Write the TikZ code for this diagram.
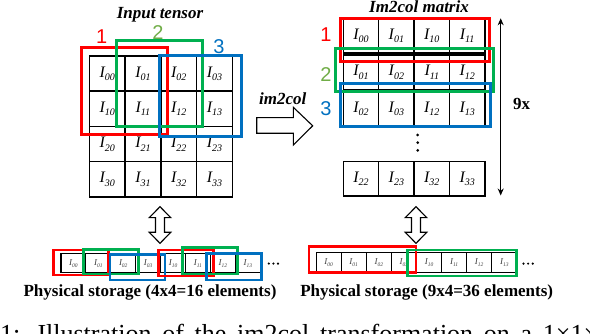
\documentclass[tikz,border=0pt]{standalone}
\usepackage{fontspec}
\setmainfont{Liberation Serif}
\newfontfamily\tagfont{Liberation Sans}
\usetikzlibrary{arrows.meta}

\definecolor{winred}{RGB}{255,0,0}
\definecolor{wingreen}{RGB}{0,176,80}
\definecolor{winblue}{RGB}{0,112,192}
\definecolor{taggreen}{RGB}{112,173,71}

\newcommand{\Icell}[1]{{\fontsize{16}{16}\selectfont\itshape I}\raisebox{-3.5pt}{\fontsize{10}{10}\selectfont\itshape #1}}
\newcommand{\Islot}[1]{{\fontsize{9}{9}\selectfont\itshape I}\raisebox{-1.8pt}{\fontsize{5.5}{5.5}\selectfont\itshape #1}}

\begin{document}
\begin{tikzpicture}[
    x=1pt, y=-1pt,
    cell/.style={draw, line width=1.5pt, minimum width=35.75pt, minimum height=35.25pt, inner sep=0pt},
    mcell/.style={cell, minimum width=35.4pt, minimum height=34.5pt},
    slot/.style={draw, line width=1.1pt, minimum width=24.9pt, minimum height=19.5pt, inner sep=0pt, text=black!75},
    win/.style={draw=#1, line width=3pt},
    swin/.style={draw=#1, line width=2.5pt},
    tag/.style={anchor=base, inner sep=0pt, font=\tagfont\fontsize{20}{20}\selectfont},
    title/.style={anchor=base, inner sep=0pt, font=\bfseries\itshape\fontsize{17}{17}\selectfont},
    label/.style={anchor=base, inner sep=0pt, font=\bfseries\fontsize{17}{17}\selectfont},
    hollow/.style={draw, line width=1.1pt, fill=white, line join=miter}
]
\useasboundingbox (0,0) rectangle (590,334);

% input tensor
\foreach \r in {0,...,3} {
  \foreach \c in {0,...,3} {
    \node[cell] (in\r\c) at ({107.2+35.75*\c},{73.6+35.25*\r}) {\Icell{\r\c}};
  }
}
\node[title] (intitle) at (160,18.3) {Input tensor};
\draw[win=winred] (81,47.7) rectangle (167.3,134.3);
\draw[win=wingreen] (116,41) rectangle (202.3,126.7);
\draw[win=winblue] (159,55.3) rectangle (241.7,136.7);
\node[tag, text=winred] (tag1) at (101.7,43.3) {1};
\node[tag, text=taggreen] (tag2) at (158,39.3) {2};
\node[tag, text=winblue] (tag3) at (219,53.3) {3};

% im2col arrow
\draw[hollow] (256.7,117.7) -- (293.3,117.7) -- (293.3,107.3) -- (312.7,125.8)
  -- (293.3,145) -- (293.3,133.3) -- (256.7,133.3) -- cycle;
\node[title] (convlabel) at (282.7,104.3) {im2col};

% im2col matrix
\foreach \r/\yc/\ids in {1/36/{00,01,10,11}, 2/72.3/{01,02,11,12}, 3/109/{02,03,12,13}, 4/179/{22,23,32,33}} {
  \foreach \id [count=\c from 0] in \ids {
    \node[mcell] (mat\r\c) at ({361+35.4*\c},\yc) {\Icell{\id}};
  }
}
\foreach \dy in {135,142.7,150.4} \fill (417.7,\dy) circle (1.5pt);
\node[title] (mattitle) at (419,12.7) {Im2col matrix};
\draw[win=winred] (340.7,18.3) rectangle (489.3,61.7);
\draw[win=wingreen] (335.7,48.3) rectangle (493.3,91.7);
\draw[win=winblue] (340,83.3) rectangle (490,126.7);
\node[tag, text=winred] (mtag1) at (326,41.7) {1};
\node[tag, text=taggreen] (mtag2) at (326,81.7) {2};
\node[tag, text=winblue] (mtag3) at (326,116) {3};

% 9x span
\coordinate (top9) at (500.7,18.3);
\coordinate (bot9) at (500.7,195.5);
\draw[{Stealth[length=7pt,width=6pt]}-{Stealth[length=7pt,width=6pt]}, line width=1.2pt] (top9) -- (bot9);
\node[label] (nine) at (521.7,110) {9x};

% links to storage
\foreach \ax in {160,416} {
  \draw[hollow] (\ax,206.7) -- ({\ax+10.8},217.7) -- ({\ax+4.5},217.7) -- ({\ax+4.5},232.3)
    -- ({\ax+10.8},232.3) -- (\ax,243.3) -- ({\ax-10.8},232.3) -- ({\ax-4.5},232.3)
    -- ({\ax-4.5},217.7) -- ({\ax-10.8},217.7) -- cycle;
}

% physical storage
\foreach \id [count=\k from 0] in {00,01,02,03,10,11,12,13} {
  \node[slot] (ls\k) at ({73.45+24.9*\k},263.2) {\Islot{\id}};
  \node[slot] (rs\k) at ({328.6+25.1*\k},262.6) {\Islot{\id}};
}
\foreach \dx in {0,4.6,9.2} {
  \fill (268.8+\dx,263.6) circle (1.2pt);
  \fill (523.5+\dx,263.6) circle (1.2pt);
}
\draw[swin=winred] (53.3,250) rectangle (108.3,275);
\draw[swin=wingreen] (83.3,249.3) rectangle (138.3,274);
\draw[swin=winblue] (110,254.3) rectangle (165,280);
\draw[swin=winred] (158.3,250) rectangle (213.3,276);
\draw[swin=wingreen] (182.7,247.7) rectangle (237.3,274);
\draw[swin=winblue] (206.7,253.3) rectangle (261.7,280);
\draw[swin=winred] (309,246.7) rectangle (416,272.7);
\draw[swin=wingreen] (407.7,250) rectangle (516.7,276);
\node[label] (lstore) at (150,296.5) {Physical storage (4x4=16 elements)};
\node[label] (rstore) at (426.7,296.5) {Physical storage (9x4=36 elements)};

% caption, cut by the page edge
\node[anchor=base west, inner sep=0pt, font=\fontsize{26}{26}\selectfont] (caption) at (0,342)
  {\makebox[598pt][s]{1: Illustration of the im2col transformation on a 1×1×}};
\end{tikzpicture}
\end{document}
